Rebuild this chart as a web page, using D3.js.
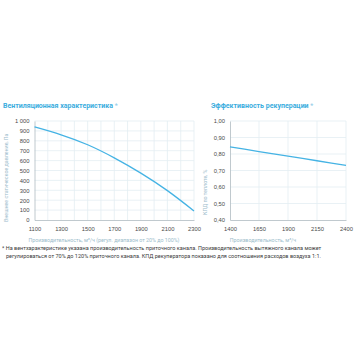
<!DOCTYPE html>
<html><head><meta charset="utf-8">
<script src="https://cdn.jsdelivr.net/npm/d3@7"></script>
<style>body{margin:0;background:#fff;}svg{display:block;font-family:Roboto,"Open Sans",sans-serif;}</style>
</head><body>
<svg id="c" width="356" height="356"></svg>
<script>
// Data
const fanFlow = [1100, 1300, 1500, 1700, 1900, 2100, 2300];
const fanPressure = [940, 861, 760, 628, 474, 297, 92];
const fanXTicks = [1100, 1300, 1500, 1700, 1900, 2100, 2300];
const fanYTicks = [0, 100, 200, 300, 400, 500, 600, 700, 800, 900, 1000];
const effFlow = [1400, 1650, 1900, 2150, 2400];
const effValue = [0.843, 0.815, 0.787, 0.759, 0.731];
const effXTicks = [1400, 1650, 1900, 2150, 2400];
const effYTicks = [0.40, 0.50, 0.60, 0.70, 0.80, 0.90, 1.00];
const titles = ["Вентиляционная характеристика", "Эффективность рекуперации"];
const yTitles = ["Внешнее статическое давление, Па", "КПД по теплоте, %"];
const xTitles = ["Производительность, м³/ч (регул. диапазон от 20% до 100%)", "Производительность, м³/ч"];
const footnote = ["* На вентхарактеристике указана производительность приточного канала. Производительность вытяжного канала может",
  "регулироваться от 70% до 120% приточного канала. КПД рекуператора показано для соотношения расходов воздуха 1:1."];

const svg = d3.select("#c");
const blue = "#3badde", line = "#45b3e4", grid = "#e3eef3", axisC = "#b9c3c8", tickC = "#4a4a4a", atC = "#9bbccb";

function panel(o){
  const x = d3.scaleLinear().domain(o.xd).range([o.x0, o.x1]);
  const y = d3.scaleLinear().domain(o.yd).range([o.y1, o.y0]);
  const g = svg.append("g");
  g.selectAll(".gx").data(o.gridX).join("line")
    .attr("x1", d=>x(d)).attr("x2", d=>x(d)).attr("y1", o.y0).attr("y2", o.y1)
    .attr("stroke", grid).attr("stroke-width", 0.8);
  g.selectAll(".gy").data(o.gridY).join("line")
    .attr("x1", o.x0).attr("x2", o.x1).attr("y1", d=>y(d)).attr("y2", d=>y(d))
    .attr("stroke", grid).attr("stroke-width", 0.8);
  const ax = g.append("g").attr("transform", `translate(0,${o.y1})`)
    .call(d3.axisBottom(x).tickValues(o.xt).tickSize(0).tickPadding(7).tickFormat(d3.format("d")));
  const ay = g.append("g").attr("transform", `translate(${o.x0},0)`)
    .call(d3.axisLeft(y).tickValues(o.yt).tickSize(0).tickPadding(5).tickFormat(o.yf));
  [ax, ay].forEach(a=>{
    a.select(".domain").attr("stroke", axisC).attr("stroke-width", 0.9);
    a.selectAll("text").attr("fill", tickC).attr("font-size", 5.8);
  });
  g.append("path").datum(o.xs.map((d,i)=>[d,o.ys[i]]))
    .attr("d", d3.line().x(d=>x(d[0])).y(d=>y(d[1])).curve(d3.curveNatural))
    .attr("fill","none").attr("stroke", line).attr("stroke-width", 1.3);
  const t = svg.append("text").attr("x", o.tx).attr("y", 108)
    .attr("fill", blue).attr("font-size", 7).attr("font-weight", "bold");
  t.append("tspan").text(o.title);
  t.append("tspan").text(" *").attr("font-weight", "normal").attr("fill", "#8fcbe8");
  svg.append("text").attr("transform", `translate(${o.ytx},${o.yty}) rotate(-90)`)
    .attr("text-anchor","start").text(o.ytitle).attr("fill", atC).attr("font-size", 5.3);
  svg.append("text").attr("x", o.xtx).attr("y", 242).attr("text-anchor","middle")
    .text(o.xtitle).attr("fill", atC).attr("font-size", 5.3);
}

const ru = d3.formatLocale({decimal:",", thousands:"\u00a0", grouping:[3], currency:["","₽"]});

panel({xd:[1100,2300], yd:[0,1000], x0:34.5, x1:194, y0:121, y1:220,
  gridX: d3.range(1200, 2301, 100), gridY: d3.range(100, 1001, 100),
  xt: fanXTicks, yt: fanYTicks, yf: ru.format(",d"),
  xs: fanFlow, ys: fanPressure, title: titles[0], tx: 3,
  ytitle: yTitles[0], ytx: 7.5, yty: 222, xtitle: xTitles[0], xtx: 104});

panel({xd:[1400,2400], yd:[0.4,1.0], x0:230, x1:346, y0:121, y1:220,
  gridX: [1650,1900,2150,2400], gridY: [0.5,0.6,0.7,0.8,0.9,1.0],
  xt: effXTicks, yt: effYTicks, yf: ru.format(".2f"),
  xs: effFlow, ys: effValue, title: titles[1], tx: 211,
  ytitle: yTitles[1], ytx: 207, yty: 215, xtitle: xTitles[1], xtx: 263});

svg.selectAll(".fn").data(footnote).join("text")
  .attr("x", (d,i)=> i===0 ? 2 : 6).attr("y", (d,i)=> 250 + i*8)
  .text(d=>d).attr("fill", "#3a3a3a").attr("font-size", 5.5);
</script>
</body></html>
